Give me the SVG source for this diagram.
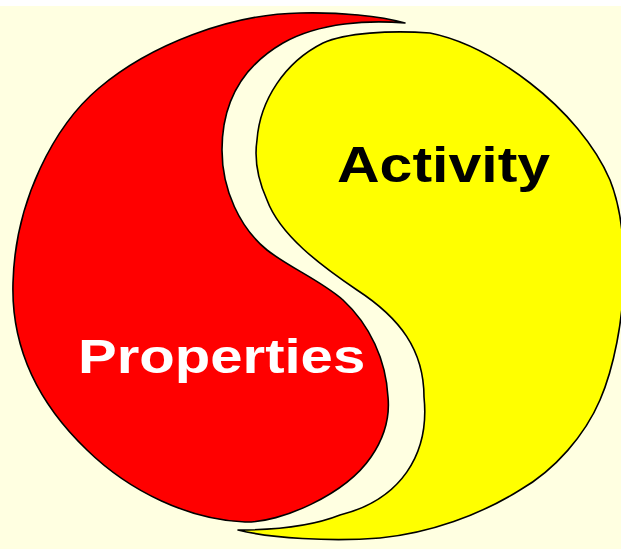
<svg xmlns="http://www.w3.org/2000/svg" width="621" height="549" viewBox="0 0 621 549">
<style>
.shape{stroke:#000;stroke-width:1.6;stroke-linejoin:round}
.lbl{font-family:"Liberation Sans",Arial,sans-serif;font-weight:bold}
</style>
<rect x="0" y="0" width="621" height="549" fill="#FFFFE1"/>
<rect x="0" y="0" width="621" height="6" fill="#FFFFFF"/>
<g id="properties">
<path class="shape" fill="#FF0000" d="M405,23 C380,16 340,12 300,13 C230,14 150,45 99,88 C55,125 15,200 13,283 C11,350 40,405 87,450 C130,492 190,520 245,522 C280,523 345,495 371,457 C384,438 390,418 388,397 C386,360 370,325 343,300 C320,280 290,268 267,250 C240,228 222,190 222,150 C222,100 245,65 283,43 C320,22 370,20 405,23 Z"/>
<text class="lbl" fill="#FFFFFF" font-size="49" transform="translate(78,373) scale(1.185,1)">Properties</text>
</g>
<g id="activity">
<path class="shape" fill="#FFFF00" d="M238,530 C270,530 310,527 340,515 C400,500 430,455 424,397 C424,350 400,318 357,290 C320,265 280,235 267,200 C258,180 254,160 257,140 C260,100 285,62 323,43 C345,33 390,30 430,33 C465,40 500,60 530,83 C565,110 595,145 610,180 C620,205 624,235 624,270 C624,320 613,370 600,400 C585,435 555,470 520,490 C480,515 430,533 380,538 C330,542 270,538 238,530 Z"/>
<text class="lbl" fill="#000000" font-size="50" transform="translate(337,182) scale(1.18,1)">Activity</text>
</g>
<g id="connectors"></g>
</svg>
